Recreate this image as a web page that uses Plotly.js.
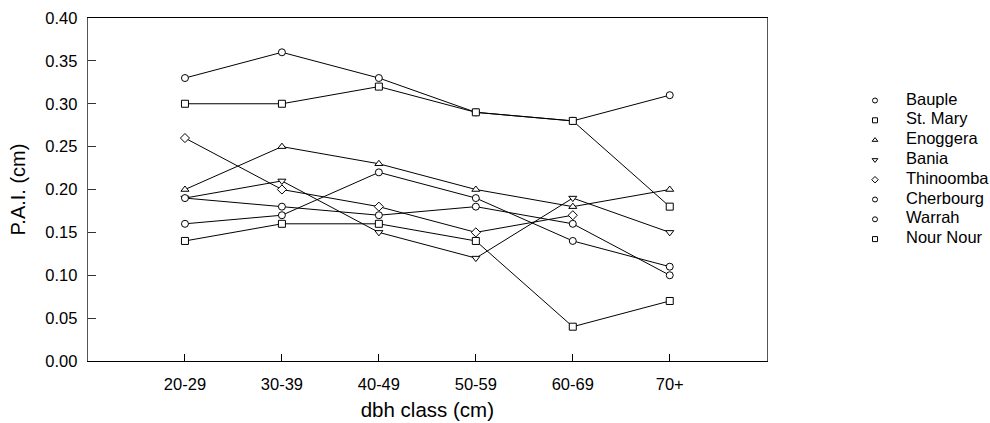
<!DOCTYPE html>
<html>
<head>
<meta charset="utf-8">
<script src="https://cdn.plot.ly/plotly-3.0.1.min.js"></script>
<style>html,body{margin:0;padding:0;background:#fff;}#chart{width:990px;height:423px;}</style>
</head>
<body>
<div id="chart"></div>
<script>
const categories = ["20-29", "30-39", "40-49", "50-59", "60-69", "70+"];
const seriesNames = ["Bauple", "St. Mary", "Enoggera", "Bania", "Thinoomba", "Cherbourg", "Warrah", "Nour Nour"];
const bauple    = [0.33, 0.36, 0.33, 0.29, 0.28, 0.31];
const stMary    = [0.30, 0.30, 0.32, 0.29, 0.28, 0.18];
const enoggera  = [0.20, 0.25, 0.23, 0.20, 0.18, 0.20];
const bania     = [0.19, 0.21, 0.15, 0.12, 0.19, 0.15];
const thinoomba = [0.26, 0.20, 0.18, 0.15, 0.17, null];
const cherbourg = [0.19, 0.18, 0.17, 0.18, 0.16, 0.10];
const warrah    = [0.16, 0.17, 0.22, 0.19, 0.14, 0.11];
const nourNour  = [0.14, 0.16, 0.16, 0.14, 0.04, 0.07];
const yTickVals = [0, 0.05, 0.10, 0.15, 0.20, 0.25, 0.30, 0.35, 0.40];

const seriesValues = [bauple, stMary, enoggera, bania, thinoomba, cherbourg, warrah, nourNour];
const symbols = ["circle", "square", "triangle-up", "triangle-down", "diamond", "circle", "circle", "square"];

const FONT = "Liberation Sans, Arial, Helvetica, sans-serif";
const traces = [];
// lines first
seriesValues.forEach((vals) => {
  traces.push({
    x: categories, y: vals, type: "scatter", mode: "lines",
    line: {color: "#000", width: 1}, showlegend: false, hoverinfo: "skip",
    connectgaps: false, xaxis: "x", yaxis: "y"
  });
});
// markers on top
seriesValues.forEach((vals, i) => {
  traces.push({
    x: categories, y: vals, type: "scatter", mode: "markers",
    name: seriesNames[i], showlegend: false, xaxis: "x", yaxis: "y",
    marker: {symbol: symbols[i], size: 7, color: "#fff", line: {color: "#000", width: 1}}
  });
});
// legend drawn as a key on its own axes
const legendIdx = seriesNames.map((_, i) => i);
traces.push({
  x: seriesNames.map(() => 0), y: legendIdx, type: "scatter", mode: "markers",
  xaxis: "x2", yaxis: "y2", showlegend: false, hoverinfo: "skip",
  marker: {symbol: symbols, size: 5, color: "#fff", line: {color: "#000", width: 1}}
});
traces.push({
  x: seriesNames.map(() => 1), y: legendIdx, type: "scatter", mode: "text",
  text: seriesNames, textposition: "middle right",
  textfont: {family: FONT, size: 16.5, color: "#000"},
  xaxis: "x2", yaxis: "y2", showlegend: false, hoverinfo: "skip"
});

const plotW = 990 - 88;
const legSpacing = 19.8, legTop = 100.5;
const layout = {
  width: 990, height: 423,
  paper_bgcolor: "#fff", plot_bgcolor: "rgba(0,0,0,0)",
  margin: {l: 88, r: 0, t: 18, b: 62},
  font: {family: FONT, size: 16.5, color: "#000"},
  showlegend: false,
  xaxis: {
    type: "category", range: [-1, 6], domain: [0, 678.7 / plotW],
    showline: true, linecolor: "#000", linewidth: 1, mirror: true,
    ticks: "inside", ticklen: 7, tickcolor: "#000", tickwidth: 1,
    showgrid: false, zeroline: false, ticklabelstandoff: 8,
    tickfont: {family: FONT, size: 16.5, color: "#000"},
    title: {text: "dbh class (cm)", font: {family: FONT, size: 20.5, color: "#000"}, standoff: 10}
  },
  yaxis: {
    range: [0, 0.40], tickvals: yTickVals, tickformat: ".2f",
    showline: true, linecolor: "#555", linewidth: 1.3, mirror: true,
    ticks: "inside", ticklen: 8, tickcolor: "#333", tickwidth: 1,
    showgrid: false, zeroline: false, ticklabelstandoff: 6,
    tickfont: {family: FONT, size: 16.5, color: "#000"},
    title: {text: "P.A.I. (cm)", font: {family: FONT, size: 20, color: "#000"}, standoff: 14}
  },
  xaxis2: {
    domain: [(860 - 88) / plotW, 1], anchor: "y2",
    range: [-15 / 31, 115 / 31], visible: false, fixedrange: true
  },
  yaxis2: {
    domain: [0, 1], anchor: "x2",
    range: [(361 - legTop) / legSpacing, (18 - legTop) / legSpacing],
    visible: false, fixedrange: true
  }
};
Plotly.newPlot("chart", traces, layout, {displayModeBar: false, staticPlot: true});
</script>
</body>
</html>
